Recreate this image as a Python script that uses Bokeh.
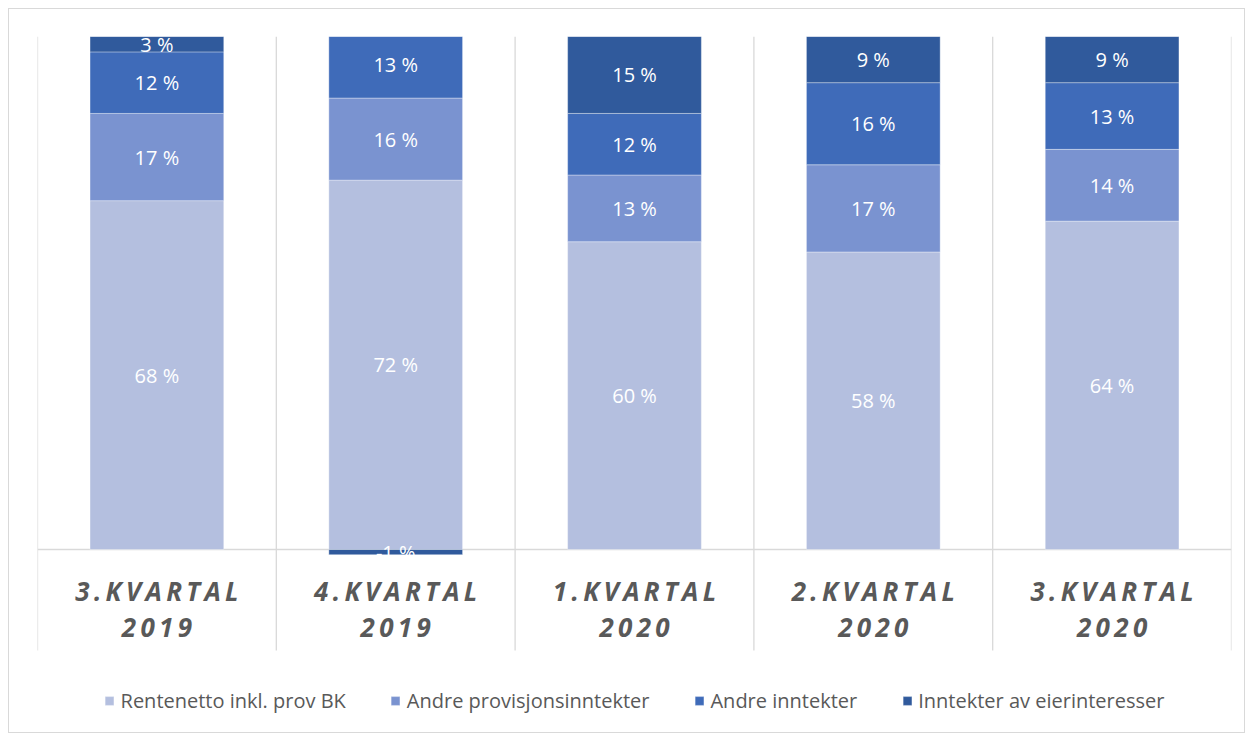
import numpy as np
from bokeh.plotting import figure
from bokeh.models import ColumnDataSource, Legend, LegendItem, Span, Range1d
from bokeh.embed import file_html
from bokeh.resources import INLINE
from bokeh.core.properties import value

# ---- data ----
quarters = ["3.KVARTAL", "4.KVARTAL", "1.KVARTAL", "2.KVARTAL", "3.KVARTAL"]
years = ["2019", "2019", "2020", "2020", "2020"]
series_names = ["Rentenetto inkl. prov BK", "Andre provisjonsinntekter",
                "Andre inntekter", "Inntekter av eierinteresser"]
rentenetto = [68, 72, 60, 58, 64]
provisjon = [17, 16, 13, 17, 14]
andre = [12, 13, 12, 16, 13]
eier = [3, -1, 15, 9, 9]
colors = ["#B4BFDF", "#7A93D0", "#3F6BB9", "#305A9C"]

series = [rentenetto, provisjon, andre, eier]
n = len(quarters)
xc = np.arange(n) + 0.5
bounds = np.arange(n + 1)

FONT = "Open Sans"
GRAY = "#595959"
GRID = "#D9D9D9"

p = figure(width=1237, height=725, x_range=Range1d(0, n), y_range=Range1d(-36.06, 100),
           x_axis_type=None, y_axis_type=None, toolbar_location=None,
           output_backend="svg", min_border_left=28, min_border_right=15,
           min_border_top=27, min_border_bottom=0)
p.outline_line_color = None
p.grid.visible = False
p.styles = {"border": "1px solid #D9D9D9", "margin-left": "8px", "margin-top": "8px"}

# separators
p.segment(x0=bounds, y0=-19.7, x1=bounds, y1=100, line_color=GRID, line_width=1.3)
p.add_layout(Span(location=0, dimension="width", line_color=GRID, line_width=1.3, level="underlay"))

pos = np.zeros(n)
neg = np.zeros(n)
renderers = []
lab_x, lab_y, lab_t = [], [], []
for vals, col, name in zip(series, colors, series_names):
    v = np.array(vals, dtype=float)
    bottom = np.where(v >= 0, pos, neg)
    top = bottom + v
    pos = np.where(v >= 0, top, pos)
    neg = np.where(v < 0, top, neg)
    src = ColumnDataSource(dict(x=xc, top=top, bottom=bottom))
    r = p.vbar(x="x", top="top", bottom="bottom", width=0.56, source=src,
               fill_color=col, line_color="#FFFFFF", line_alpha=0.35, line_width=1)
    renderers.append((name, r))
    for i in range(n):
        lab_x.append(xc[i])
        lab_y.append((bottom[i] + top[i]) / 2)
        lab_t.append(f"{vals[i]} %")

p.text(x=lab_x, y=lab_y, text=lab_t, text_color="white", text_align="center",
       text_baseline="middle", text_font=value(FONT), text_font_size="20px")

SP = "\u2009"
spaced_q = [SP.join(list(q)) for q in quarters]
spaced_y = [SP.join(list(y)) for y in years]
p.text(x=xc, y=[-8.0] * n, text=spaced_q, text_color=GRAY, text_align="center",
       text_baseline="middle", text_font=value(FONT), text_font_size="26px",
       text_font_style="bold italic")
p.text(x=xc, y=[-15.2] * n, text=spaced_y, text_color=GRAY, text_align="center",
       text_baseline="middle", text_font=value(FONT), text_font_size="26px",
       text_font_style="bold italic")

legend = Legend(items=[LegendItem(label=nm, renderers=[r]) for nm, r in renderers],
                orientation="horizontal", location="bottom_center",
                glyph_width=11, glyph_height=11, label_standoff=6, spacing=44,
                label_text_font=FONT, label_text_font_size="20px",
                label_text_color=GRAY, border_line_color=None,
                background_fill_alpha=0, padding=0, margin=20)
p.add_layout(legend, "center")

open("out.html", "w").write(file_html(p, INLINE))
